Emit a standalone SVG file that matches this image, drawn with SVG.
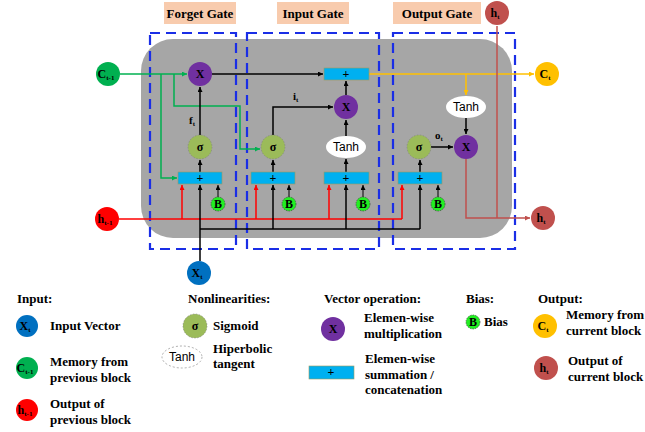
<svg xmlns="http://www.w3.org/2000/svg" width="645" height="432" viewBox="0 0 645 432">
  <defs>
    <marker id="ah-k" viewBox="0 0 6 6" refX="6" refY="3" markerWidth="5" markerHeight="5" markerUnits="userSpaceOnUse" orient="auto"><path d="M0,0 L6,3 L0,6 z" fill="#000"/></marker>
    <marker id="ah-r" viewBox="0 0 6 6" refX="6" refY="3" markerWidth="5" markerHeight="5" markerUnits="userSpaceOnUse" orient="auto"><path d="M0,0 L6,3 L0,6 z" fill="#ff0000"/></marker>
    <marker id="ah-g" viewBox="0 0 6 6" refX="6" refY="3" markerWidth="5" markerHeight="5" markerUnits="userSpaceOnUse" orient="auto"><path d="M0,0 L6,3 L0,6 z" fill="#00b050"/></marker>
    <marker id="ah-o" viewBox="0 0 6 6" refX="6" refY="3" markerWidth="5" markerHeight="5" markerUnits="userSpaceOnUse" orient="auto"><path d="M0,0 L6,3 L0,6 z" fill="#ffc000"/></marker>
    <marker id="ah-b" viewBox="0 0 6 6" refX="6" refY="3" markerWidth="5" markerHeight="5" markerUnits="userSpaceOnUse" orient="auto"><path d="M0,0 L6,3 L0,6 z" fill="#c0504d"/></marker>
  </defs>
  <style>
    text { font-family: "Liberation Serif", "Times New Roman", serif; font-weight: bold; fill: #000; }
    .lbl { font-size: 13px; }
    .node { font-size: 12px; text-anchor: middle; }
    .sub { font-size: 7px; }
    .sans { font-family: "Liberation Sans", Arial, sans-serif; font-weight: normal; font-size: 12px; text-anchor: middle; }
    .gate-tag { fill: #f8cbad; }
    .gate { fill: none; stroke: #1a2ee6; stroke-width: 2.2; stroke-dasharray: 10 6; }
    .mul { fill: #7030a0; }
    .sig { fill: #9bbb59; stroke: #7f7f7f; stroke-width: 0.6; stroke-dasharray: 1.5 1.5; }
    .sum { fill: #00b0f0; stroke: #9a9a60; stroke-width: 0.6; }
    .tanh { fill: #fff; }
    .bias { fill: #22ee22; stroke: #333; stroke-width: 0.6; stroke-dasharray: 1.5 1; }
    .k { fill: none; stroke: #000; stroke-width: 1.5; }
    .r { fill: none; stroke: #ff0000; stroke-width: 1.5; }
    .g { fill: none; stroke: #00b050; stroke-width: 1.5; }
    .o { fill: none; stroke: #ffc000; stroke-width: 1.5; }
    .b { fill: none; stroke: #c0504d; stroke-width: 1.5; }
  </style>

  <rect width="645" height="432" fill="#fff"/>

  <!-- cell body -->
  <rect x="141" y="39" width="371" height="199" rx="32" fill="#a6a6a6"/>

  <!-- gate frames and titles -->
  <g id="forget-gate">
    <rect class="gate" x="150" y="33" width="86" height="216"/>
    <rect class="gate-tag" x="164" y="2" width="72" height="22"/>
    <text class="lbl" x="200" y="18" text-anchor="middle">Forget Gate</text>
  </g>
  <g id="input-gate">
    <rect class="gate" x="247" y="33" width="132" height="216"/>
    <rect class="gate-tag" x="277" y="2" width="72" height="22"/>
    <text class="lbl" x="313" y="18" text-anchor="middle">Input Gate</text>
  </g>
  <g id="output-gate">
    <rect class="gate" x="393" y="33" width="122" height="216"/>
    <rect class="gate-tag" x="393" y="2" width="88" height="22"/>
    <text class="lbl" x="437" y="18" text-anchor="middle">Output Gate</text>
  </g>

  <!-- connectors -->
  <g id="connectors">
    <!-- previous memory -->
    <path class="g" d="M120,74 H187" marker-end="url(#ah-g)"/>
    <path class="g" d="M161,74 V178 H177" marker-end="url(#ah-g)"/>
    <path class="g" d="M174,74 V106 H240 V149 H260" marker-end="url(#ah-g)"/>
    <!-- forget path -->
    <path class="k" d="M212,74 H323" marker-end="url(#ah-k)"/>
    <path class="k" d="M200,172 V160" marker-end="url(#ah-k)"/>
    <path class="k" d="M200,135 V87" marker-end="url(#ah-k)"/>
    <!-- input path -->
    <path class="k" d="M273,172 V160" marker-end="url(#ah-k)"/>
    <path class="k" d="M273,135 V107 H333" marker-end="url(#ah-k)"/>
    <path class="k" d="M346,172 V159" marker-end="url(#ah-k)"/>
    <path class="k" d="M346,136 V120" marker-end="url(#ah-k)"/>
    <path class="k" d="M346,95 V81" marker-end="url(#ah-k)"/>
    <!-- new memory -->
    <path class="o" d="M369,74 H534" marker-end="url(#ah-o)"/>
    <path class="o" d="M466,74 V95" marker-end="url(#ah-o)"/>
    <!-- output path -->
    <path class="k" d="M420,172 V160" marker-end="url(#ah-k)"/>
    <path class="k" d="M431,147 H453" marker-end="url(#ah-k)"/>
    <path class="k" d="M466,118 V134" marker-end="url(#ah-k)"/>
    <path class="b" d="M497,26 V218"/>
    <path class="b" d="M466,159 V218 H530" marker-end="url(#ah-b)"/>
    <!-- previous output -->
    <path class="r" d="M119,219 H402"/>
    <path class="r" d="M182,219 V185" marker-end="url(#ah-r)"/>
    <path class="r" d="M256,219 V185" marker-end="url(#ah-r)"/>
    <path class="r" d="M329,219 V185" marker-end="url(#ah-r)"/>
    <path class="r" d="M402,219 V185" marker-end="url(#ah-r)"/>
    <!-- input vector -->
    <path class="k" d="M200,261 V185" marker-end="url(#ah-k)"/>
    <path class="k" d="M200,229 H420"/>
    <path class="k" d="M273,229 V185" marker-end="url(#ah-k)"/>
    <path class="k" d="M346,229 V185" marker-end="url(#ah-k)"/>
    <path class="k" d="M420,229 V185" marker-end="url(#ah-k)"/>
    <!-- biases -->
    <path class="k" style="stroke-width:1" d="M218,197 V185" marker-end="url(#ah-k)"/>
    <path class="k" style="stroke-width:1" d="M289,197 V185" marker-end="url(#ah-k)"/>
    <path class="k" style="stroke-width:1" d="M363,197 V185" marker-end="url(#ah-k)"/>
    <path class="k" style="stroke-width:1" d="M438,197 V185" marker-end="url(#ah-k)"/>
  </g>

  <!-- connector labels -->
  <text x="189" y="124" font-size="11">f<tspan class="sub" dy="2">t</tspan></text>
  <text x="293" y="100" font-size="11">i<tspan class="sub" dy="2">t</tspan></text>
  <text x="435" y="139" font-size="11">o<tspan class="sub" dy="2">t</tspan></text>

  <!-- inputs / outputs -->
  <g id="c-prev"><circle cx="108" cy="74" r="12" fill="#00b050"/><text class="node" x="106" y="78">C<tspan class="sub" dy="2">t-1</tspan></text></g>
  <g id="h-prev"><circle cx="107" cy="219" r="12" fill="#ff0000"/><text class="node" x="105" y="223">h<tspan class="sub" dy="2">t-1</tspan></text></g>
  <g id="x-in"><circle cx="199" cy="273" r="12" fill="#0070c0"/><text class="node" x="197" y="277">X<tspan class="sub" dy="2">t</tspan></text></g>
  <g id="c-out"><circle cx="547" cy="74" r="12" fill="#ffc000"/><text class="node" x="545" y="78">C<tspan class="sub" dy="2">t</tspan></text></g>
  <g id="h-out-right"><circle cx="543" cy="218" r="12" fill="#c0504d"/><text class="node" x="541" y="222">h<tspan class="sub" dy="2">t</tspan></text></g>
  <g id="h-out-top"><circle cx="497" cy="13" r="12" fill="#c0504d"/><text class="node" x="495" y="17">h<tspan class="sub" dy="2">t</tspan></text></g>

  <!-- forget gate ops -->
  <g id="forget-mul"><circle class="mul" cx="200" cy="74" r="12"/><text class="node" x="200" y="78">X</text></g>
  <g id="forget-sig"><circle class="sig" cx="200" cy="147" r="12"/><text class="node" x="200" y="151" font-size="11">σ</text></g>
  <g id="forget-sum"><rect class="sum" x="178" y="172" width="44" height="12"/><text class="node" x="200" y="182">+</text></g>
  <g id="forget-bias"><circle class="bias" cx="218" cy="204" r="7"/><text class="node" x="218" y="208" font-size="11">B</text></g>

  <!-- input gate ops -->
  <g id="input-sig"><circle class="sig" cx="273" cy="147" r="12"/><text class="node" x="273" y="151" font-size="11">σ</text></g>
  <g id="input-sum"><rect class="sum" x="251" y="172" width="44" height="12"/><text class="node" x="273" y="182">+</text></g>
  <g id="input-bias"><circle class="bias" cx="289" cy="204" r="7"/><text class="node" x="289" y="208" font-size="11">B</text></g>
  <g id="cand-tanh"><ellipse class="tanh" cx="346" cy="147" rx="20" ry="11"/><text class="sans" x="346" y="151">Tanh</text></g>
  <g id="cand-sum"><rect class="sum" x="324" y="172" width="45" height="12"/><text class="node" x="346" y="182">+</text></g>
  <g id="cand-bias"><circle class="bias" cx="363" cy="204" r="7"/><text class="node" x="363" y="208" font-size="11">B</text></g>
  <g id="input-mul"><circle class="mul" cx="346" cy="107" r="12"/><text class="node" x="346" y="111">X</text></g>
  <g id="cell-sum"><rect class="sum" x="324" y="68" width="45" height="12"/><text class="node" x="346" y="78">+</text></g>

  <!-- output gate ops -->
  <g id="output-tanh"><ellipse class="tanh" cx="466" cy="107" rx="20" ry="11"/><text class="sans" x="466" y="111">Tanh</text></g>
  <g id="output-mul"><circle class="mul" cx="466" cy="147" r="12"/><text class="node" x="466" y="151">X</text></g>
  <g id="output-sig"><circle class="sig" cx="419" cy="147" r="12"/><text class="node" x="419" y="151" font-size="11">σ</text></g>
  <g id="output-sum"><rect class="sum" x="398" y="172" width="44" height="12"/><text class="node" x="420" y="182">+</text></g>
  <g id="output-bias"><circle class="bias" cx="438" cy="204" r="7"/><text class="node" x="438" y="208" font-size="11">B</text></g>

  <!-- key -->
  <g id="legend">
    <text class="lbl" x="17" y="303">Input:</text>
    <circle cx="27" cy="326" r="11" fill="#0070c0"/><text class="node" x="25" y="330">X<tspan class="sub" dy="2">t</tspan></text>
    <text class="lbl" x="50" y="330">Input Vector</text>
    <circle cx="27" cy="368" r="11" fill="#00b050"/><text class="node" x="25" y="372">C<tspan class="sub" dy="2">t-1</tspan></text>
    <text class="lbl" x="50" y="366">Memory from</text>
    <text class="lbl" x="50" y="382">previous block</text>
    <circle cx="27" cy="410" r="11" fill="#ff0000"/><text class="node" x="25" y="414">h<tspan class="sub" dy="2">t-1</tspan></text>
    <text class="lbl" x="50" y="408">Output of</text>
    <text class="lbl" x="50" y="424">previous block</text>

    <text class="lbl" x="188" y="303">Nonlinearities:</text>
    <circle class="sig" cx="195" cy="326" r="12"/><text class="node" x="195" y="330" font-size="11">σ</text>
    <text class="lbl" x="213" y="330">Sigmoid</text>
    <ellipse cx="182" cy="357" rx="20" ry="11" fill="#fff" stroke="#999" stroke-width="0.8" stroke-dasharray="2 2"/><text class="sans" x="182" y="361">Tanh</text>
    <text class="lbl" x="213" y="353">Hiperbolic</text>
    <text class="lbl" x="213" y="368">tangent</text>

    <text class="lbl" x="324" y="303">Vector operation:</text>
    <circle class="mul" cx="333" cy="329" r="12"/><text class="node" x="333" y="333">X</text>
    <text class="lbl" x="364" y="322">Elemen-wise</text>
    <text class="lbl" x="364" y="338">multiplication</text>
    <rect class="sum" x="309" y="366" width="45" height="13"/><text class="node" x="331" y="376">+</text>
    <text class="lbl" x="365" y="363">Elemen-wise</text>
    <text class="lbl" x="365" y="379">summation /</text>
    <text class="lbl" x="365" y="394">concatenation</text>

    <text class="lbl" x="466" y="303">Bias:</text>
    <circle class="bias" cx="473" cy="322" r="7"/><text class="node" x="473" y="326" font-size="11">B</text>
    <text class="lbl" x="484" y="326">Bias</text>

    <text class="lbl" x="538" y="303">Output:</text>
    <circle cx="545" cy="326" r="12" fill="#ffc000"/><text class="node" x="543" y="330">C<tspan class="sub" dy="2">t</tspan></text>
    <text class="lbl" x="566" y="319">Memory from</text>
    <text class="lbl" x="566" y="335">current block</text>
    <circle cx="546" cy="368" r="12" fill="#c0504d"/><text class="node" x="544" y="372">h<tspan class="sub" dy="2">t</tspan></text>
    <text class="lbl" x="568" y="365">Output of</text>
    <text class="lbl" x="568" y="381">current block</text>
  </g>
</svg>
